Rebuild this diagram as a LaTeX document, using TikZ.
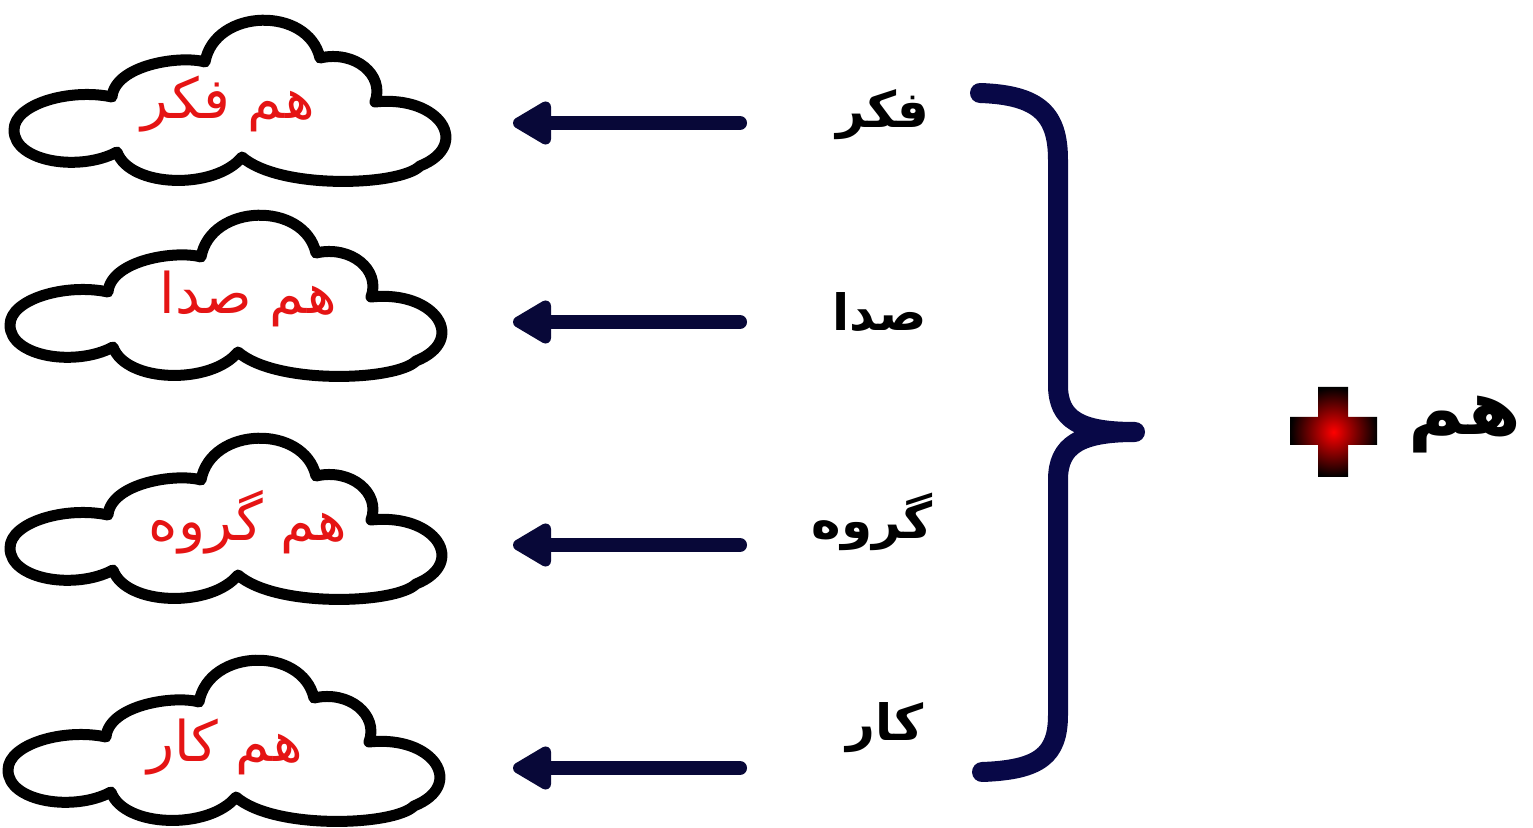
\documentclass[tikz,border=0pt]{standalone}
\usepackage{fontspec}
\newfontfamily\arabicfont[Script=Arabic]{DejaVu Sans}
\TeXXeTstate=1
\usetikzlibrary{arrows.meta}
\definecolor{navy}{rgb}{0.03,0.03,0.22}
\definecolor{bracecol}{rgb}{0.03,0.03,0.28}
\definecolor{redtxt}{rgb}{0.90,0.08,0.08}
\tikzset{
  cloudline/.style={line width=5.5pt, black, line join=round, fill=white},
  cloudtext/.style={text=redtxt, font=\arabicfont\fontsize{28}{32}\selectfont, inner sep=0pt},
  wordlabel/.style={text=black, font=\arabicfont\bfseries\fontsize{25}{29}\selectfont, inner sep=0pt},
  arrowline/.style={line width=7pt, navy, line cap=round, -{Triangle[length=22pt,width=24pt,round]}},
  bracestyle/.style={line width=10pt, bracecol, line cap=round, line join=round},
  cloudshape/.pic={
    \draw[cloudline] (117,152)
      .. controls (80,172) and (14,162) .. (14,130)
      .. controls (14,104) and (70,88) .. (112,97)
      .. controls (115,65) and (180,55) .. (205,62)
      .. controls (215,8) and (308,6) .. (320,58)
      .. controls (355,50) and (385,75) .. (375,102)
      .. controls (440,95) and (472,145) .. (420,166)
      .. controls (400,186) and (280,190) .. (242,157)
      .. controls (215,190) and (130,188) .. (117,152) -- cycle;
  }
}
\begin{document}
\begin{tikzpicture}[x=0.5pt,y=-0.5pt]
\useasboundingbox (0,0) rectangle (1533,828);
\fill[white] (0,0) rectangle (1533,828);

% clouds
\pic at (0,0) {cloudshape};
\pic at (-4,195) {cloudshape};
\pic at (-4,418) {cloudshape};
\pic at (-6,640) {cloudshape};

\node[cloudtext] (c1) at (228,104) {\beginR هم فکر\endR};
\node[cloudtext] (c2) at (248,299) {\beginR هم صدا\endR};
\node[cloudtext] (c3) at (248,522) {\beginR هم گروه\endR};
\node[cloudtext] (c4) at (225,747) {\beginR هم کار\endR};

% word labels
\node[wordlabel] (w1) at (883,115) {\beginR فکر\endR};
\node[wordlabel] (w2) at (880,312) {\beginR صدا\endR};
\node[wordlabel] (w3) at (872,522) {\beginR گروه\endR};
\node[wordlabel] (w4) at (885,728) {\beginR کار\endR};

% arrows
\coordinate (s1) at (740,123); \coordinate (e1) at (513,123);
\coordinate (s2) at (740,322); \coordinate (e2) at (513,322);
\coordinate (s3) at (740,545); \coordinate (e3) at (513,545);
\coordinate (s4) at (740,768); \coordinate (e4) at (513,768);
\draw[arrowline] (s1) -- (e1);
\draw[arrowline] (s2) -- (e2);
\draw[arrowline] (s3) -- (e3);
\draw[arrowline] (s4) -- (e4);

% brace
\coordinate (btop) at (980,93);
\coordinate (btip) at (1135,432);
\coordinate (bbot) at (982,772);
\draw[bracestyle] (btop)
  .. controls (1040,95) and (1058,115) .. (1058,160)
  -- (1058,385)
  .. controls (1058,420) and (1080,432) .. (btip)
  .. controls (1080,432) and (1058,445) .. (1058,480)
  -- (1058,715)
  .. controls (1058,755) and (1040,770) .. (bbot);

% plus
\shade[inner color=red, outer color=black]
  (1318,387) -- (1348,387) -- (1348,417) -- (1377,417) -- (1377,445)
  -- (1348,445) -- (1348,477) -- (1318,477) -- (1318,445) -- (1290,445)
  -- (1290,417) -- (1318,417) -- cycle;
\node[inner sep=0pt] (plus) at (1333,432) {};

\node[wordlabel, font=\arabicfont\bfseries\fontsize{38}{42}\selectfont] (ham) at (1465,425) {\beginR هم\endR};
\end{tikzpicture}
\end{document}
